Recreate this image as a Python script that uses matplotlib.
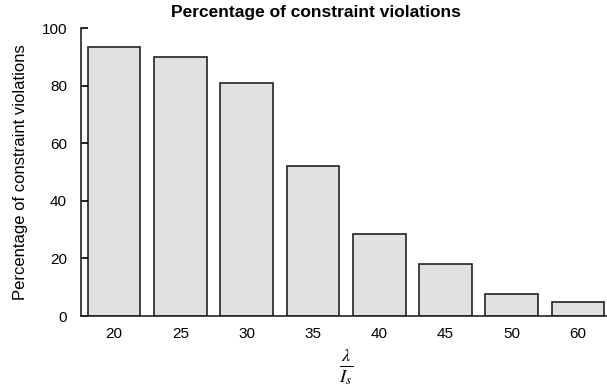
import matplotlib
matplotlib.use("Agg")
import matplotlib.pyplot as plt
import numpy as np

# data
ratios = ["20", "25", "30", "35", "40", "45", "50", "60"]
violations = [93.5, 90.0, 81.0, 52.2, 28.3, 18.1, 7.8, 4.9]

plt.rcParams['font.family'] = ['Liberation Sans', 'DejaVu Sans']
plt.rcParams['mathtext.fontset'] = 'stix'

W, H = 607, 389
fig = plt.figure(figsize=(W / 100, H / 100), dpi=100)
ax = fig.add_axes([81 / W, (H - 316) / H, 1 - 81 / W, (316 - 28) / H])

x = np.arange(len(ratios))
ax.bar(x, violations, width=0.795, color='#e1e1e1', edgecolor='#222222', linewidth=1.2)

ax.set_xlim(-0.498, 7.436)
ax.set_ylim(0, 100)
ax.set_yticks([0, 20, 40, 60, 80, 100])
ax.set_xticks(x)
ax.set_xticklabels(ratios)
ax.tick_params(axis='y', direction='in', length=5, width=1.2, labelsize=11, pad=10)
ax.tick_params(axis='x', length=0, labelsize=11, pad=8)

for s in ['top', 'right']:
    ax.spines[s].set_visible(False)
for s in ['left', 'bottom']:
    ax.spines[s].set_linewidth(1.2)
    ax.spines[s].set_color('#222222')

ax.set_ylabel('Percentage of constraint violations', fontsize=12, labelpad=10)
fig.text(346 / W, 1 - 367 / H, r'$\frac{\lambda}{I_s}$', fontsize=19, ha='center', va='center')
fig.text(316 / W, 1 - 12 / H, 'Percentage of constraint violations', fontsize=12.5,
         fontweight='bold', ha='center', va='center')

fig.savefig('out.png', dpi=100)
